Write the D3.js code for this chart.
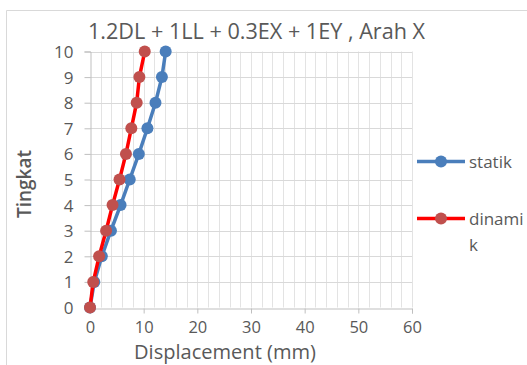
<!DOCTYPE html>
<html>
<head>
<meta charset="utf-8">
<script src="https://cdn.jsdelivr.net/npm/d3@7"></script>
<style>
  html, body { margin: 0; padding: 0; background: #fff; }
  svg { display: block; }
  text { font-family: "Open Sans", "Liberation Sans", sans-serif; fill: #595959; }
</style>
</head>
<body>
<svg id="chart" width="527" height="365"></svg>
<script>
// Storey levels and lateral displacement (mm) per level
const levels = [0, 1, 2, 3, 4, 5, 6, 7, 8, 9, 10];
const statik = [0, 0.8, 2.2, 3.9, 5.7, 7.4, 9.1, 10.7, 12.2, 13.4, 14.1];
const dinamik = [0, 0.6, 1.7, 3.0, 4.2, 5.5, 6.7, 7.7, 8.7, 9.2, 10.2];
const xTicks = [0, 10, 20, 30, 40, 50, 60];
const yTicks = [0, 1, 2, 3, 4, 5, 6, 7, 8, 9, 10];
const seriesNames = ["statik", "dinamik"];
const titleText = "1.2DL + 1LL + 0.3EX + 1EY , Arah X";

const svg = d3.select("#chart");

// scale text so that it spans a given width
function fitWidth(sel, w) {
  const n = sel.node();
  const fs = parseFloat(sel.attr("font-size"));
  const cur = n.getComputedTextLength();
  sel.attr("font-size", (fs * w / cur).toFixed(2));
}

// chart frame
svg.append("path")
  .attr("d", "M6.5,365 V10.5 H527")
  .attr("fill", "none").attr("stroke", "#d9d9d9").attr("stroke-width", 1);

const x = d3.scaleLinear().domain([0, 60]).range([90, 412]);
const y = d3.scaleLinear().domain([0, 10]).range([307.5, 51.5]);

const grid = svg.append("g");
// vertical gridlines every 2 mm
grid.selectAll("line.v").data(d3.range(2, 61, 2)).join("line")
  .attr("x1", d => Math.round(x(d)) + 0.5).attr("x2", d => Math.round(x(d)) + 0.5)
  .attr("y1", y(10)).attr("y2", y(0))
  .attr("stroke", "#e3e3e3").attr("stroke-width", 1);
// horizontal gridlines at each level
grid.selectAll("line.h").data(yTicks.slice(1)).join("line")
  .attr("x1", x(0)).attr("x2", x(60))
  .attr("y1", d => Math.round(y(d)) + 0.5).attr("y2", d => Math.round(y(d)) + 0.5)
  .attr("stroke", "#d9d9d9").attr("stroke-width", 1);

// axes
const xAxis = svg.append("g")
  .attr("transform", `translate(0,${Math.round(y(0)) + 0.5})`)
  .call(d3.axisBottom(x).tickValues(xTicks).tickSize(5).tickPadding(8));
const yAxis = svg.append("g")
  .attr("transform", `translate(${Math.round(x(0)) + 0.5},0)`)
  .call(d3.axisLeft(y).tickValues(yTicks).tickSize(6).tickPadding(11));
[xAxis, yAxis].forEach(a => {
  a.select(".domain").attr("stroke", "#bfbfbf");
  a.selectAll(".tick line").attr("stroke", "#bfbfbf");
  a.selectAll(".tick text").attr("font-size", 17)
    .attr("font-family", "'Open Sans', sans-serif").attr("fill", "#595959");
});
xAxis.selectAll(".tick text").attr("font-size", 16.5).attr("dy", "0.7em");
yAxis.selectAll(".tick text").attr("dy", "0.35em");

// series
const line = d3.line().x(d => x(d[0])).y(d => y(d[1]));
const series = [
  { name: seriesNames[0], vals: statik, line: "#4a7ebb", dot: "#4a7ebb" },
  { name: seriesNames[1], vals: dinamik, line: "#ff0000", dot: "#c0504d" }
];
series.forEach(s => {
  const pts = levels.map((lv, i) => [s.vals[i], lv]);
  svg.append("path").attr("d", line(pts))
    .attr("fill", "none").attr("stroke", s.line).attr("stroke-width", 3.5)
    .attr("stroke-linejoin", "round");
  svg.append("g").selectAll("circle").data(pts).join("circle")
    .attr("cx", d => x(d[0])).attr("cy", d => y(d[1])).attr("r", 6)
    .attr("fill", s.dot);
});

// title
const title = svg.append("text").attr("x", 256.5).attr("y", 39)
  .attr("text-anchor", "middle").attr("font-size", 20).text(titleText);
fitWidth(title, 337);

// axis titles
const xt = svg.append("text").attr("x", 225).attr("y", 358.5)
  .attr("text-anchor", "middle").attr("font-size", 19).text("Displacement (mm)");
fitWidth(xt, 182);
const yt = svg.append("text").attr("transform", "translate(31,184) rotate(-90)")
  .attr("text-anchor", "middle").attr("font-size", 18).attr("font-weight", 600)
  .text("Tingkat");
fitWidth(yt, 68);

// legend
const leg = svg.append("g");
const legRows = [
  { s: series[0], y: 161.5, lines: ["statik"] },
  { s: series[1], y: 218.5, lines: ["dinami", "k"] }
];
legRows.forEach(r => {
  leg.append("line").attr("x1", 417).attr("x2", 465).attr("y1", r.y).attr("y2", r.y)
    .attr("stroke", r.s.line).attr("stroke-width", 3.5);
  leg.append("circle").attr("cx", 441).attr("cy", r.y).attr("r", 6).attr("fill", r.s.dot);
  r.lines.forEach((t, i) => {
    leg.append("text").attr("x", 469).attr("y", r.y + 6 + i * 26)
      .attr("font-size", 17).text(t);
  });
});
</script>
</body>
</html>
